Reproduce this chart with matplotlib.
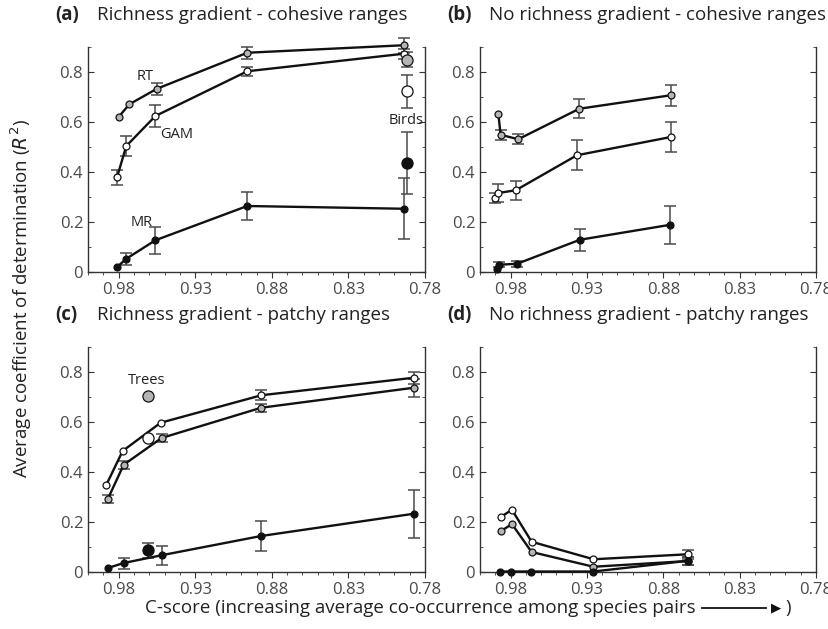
import numpy as np
import matplotlib.pyplot as plt
from matplotlib.ticker import MultipleLocator

plt.rcParams['font.family'] = ['Open Sans', 'DejaVu Sans']

# (a) Richness gradient - cohesive ranges
a_rt_x = [0.980, 0.973, 0.955, 0.896, 0.794]
a_rt = [0.620, 0.671, 0.733, 0.877, 0.907]
a_rt_err = [0, 0, 0.023, 0.023, 0.030]
a_gam_x = [0.981, 0.975, 0.956, 0.896, 0.794]
a_gam = [0.380, 0.504, 0.624, 0.803, 0.873]
a_gam_err = [0.030, 0.041, 0.045, 0.017, 0.020]
a_mr_x = [0.981, 0.975, 0.956, 0.896, 0.794]
a_mr = [0.020, 0.053, 0.127, 0.264, 0.253]
a_mr_err = [0, 0.025, 0.053, 0.057, 0.122]
birds_x = 0.7915
birds_rt, birds_rt_err = 0.850, 0.030
birds_gam, birds_gam_err = 0.724, 0.066
birds_mr, birds_mr_err = 0.436, 0.125

# (b) No richness gradient - cohesive ranges
b_rt_x = [0.988, 0.9865, 0.975, 0.935, 0.875]
b_rt = [0.633, 0.549, 0.531, 0.653, 0.707]
b_rt_err = [0, 0.020, 0.020, 0.037, 0.043]
b_gam_x = [0.990, 0.988, 0.9766, 0.9365, 0.875]
b_gam = [0.297, 0.316, 0.327, 0.467, 0.540]
b_gam_err = [0.020, 0.035, 0.037, 0.060, 0.060]
b_mr_x = [0.989, 0.9875, 0.9757, 0.9346, 0.8753]
b_mr = [0.013, 0.029, 0.033, 0.129, 0.189]
b_mr_err = [0, 0.010, 0.013, 0.043, 0.075]

# (c) Richness gradient - patchy ranges
c_gam_x = [0.988, 0.9774, 0.9526, 0.8868, 0.7874]
c_gam = [0.349, 0.484, 0.597, 0.707, 0.777]
c_gam_err = [0, 0, 0, 0.020, 0.023]
c_rt_x = [0.987, 0.9767, 0.952, 0.887, 0.7874]
c_rt = [0.293, 0.429, 0.536, 0.657, 0.737]
c_rt_err = [0.016, 0.017, 0.015, 0.015, 0.037]
c_mr_x = [0.987, 0.9767, 0.952, 0.887, 0.7874]
c_mr = [0.016, 0.036, 0.067, 0.144, 0.233]
c_mr_err = [0, 0.022, 0.037, 0.060, 0.095]
trees_x = 0.961
trees_rt, trees_rt_err = 0.703, 0
trees_gam, trees_gam_err = 0.537, 0
trees_mr, trees_mr_err = 0.087, 0.030

# (d) No richness gradient - patchy ranges
d_gam_x = [0.9864, 0.9791, 0.9662, 0.9257, 0.8636]
d_gam = [0.220, 0.249, 0.121, 0.051, 0.071]
d_gam_err = [0, 0, 0, 0, 0.018]
d_rt_x = [0.9864, 0.9791, 0.9662, 0.9257, 0.8636]
d_rt = [0.163, 0.192, 0.080, 0.021, 0.044]
d_rt_err = [0, 0, 0, 0, 0.017]
d_mr_x = [0.987, 0.9795, 0.9665, 0.9257, 0.8636]
d_mr = [0.002, 0.002, 0.002, 0.002, 0.045]
d_mr_err = [0, 0, 0, 0, 0.015]

titles = ['Richness gradient - cohesive ranges', 'No richness gradient - cohesive ranges',
          'Richness gradient - patchy ranges', 'No richness gradient - patchy ranges']
letters = ['(a)', '(b)', '(c)', '(d)']

GRAY = '#b4b4b4'
ERRC = '#4a4a4a'
TICKC = '#4a4a4a'
FS = 13.5


def series(ax, x, y, err, fc, ms=5):
    x = np.array(x)
    y = np.array(y)
    err = np.array(err)
    m = err > 0
    eb = ax.errorbar(x[m], y[m], yerr=err[m], fmt='none', ecolor=ERRC, elinewidth=1.1,
                     capsize=4, capthick=1.1, zorder=2)
    for art in eb.lines[1] + eb.lines[2]:
        art.set_clip_on(False)
    ax.plot(x, y, '-', color='#111111', lw=1.7, zorder=3, clip_on=False)
    ax.plot(x, y, 'o', ms=ms, mfc=fc, mec='#111111', mew=0.9, zorder=4, clip_on=False)


def big(ax, x, y, err, fc):
    if err > 0:
        ax.errorbar([x], [y], yerr=[err], fmt='none', ecolor=ERRC, elinewidth=1.1,
                    capsize=4, capthick=1.1, zorder=2)
    ax.plot([x], [y], 'o', ms=8, mfc=fc, mec='#111111', mew=0.9, zorder=5, clip_on=False)


fig = plt.figure(figsize=(8.29, 6.29), dpi=100)
W, H = 829.0, 629.0
boxes = [(88, 47, 425, 272), (480, 47, 816, 272), (88, 347, 425, 572), (480, 347, 816, 572)]
axes = []
for (l, t, r, b) in boxes:
    ax = fig.add_axes([l / W, 1 - b / H, (r - l) / W, (b - t) / H])
    ax.set_xlim(1.0, 0.78)
    ax.set_ylim(0, 0.9)
    ax.xaxis.set_minor_locator(MultipleLocator(0.01))
    ax.yaxis.set_minor_locator(MultipleLocator(0.1))
    ax.set_xticks([0.98, 0.93, 0.88, 0.83, 0.78])
    ax.set_xticklabels(['0.98', '0.93', '0.88', '0.83', '0.78'])
    ax.set_yticks([0, 0.2, 0.4, 0.6, 0.8])
    ax.set_yticklabels(['0', '0.2', '0.4', '0.6', '0.8'])
    ax.spines['top'].set_visible(False)
    for s in ['left', 'right', 'bottom']:
        ax.spines[s].set_linewidth(1.0)
        ax.spines[s].set_color('#333333')
    ax.tick_params(axis='y', which='both', direction='in', left=True, right=True,
                   colors='#333333', labelcolor=TICKC, labelsize=12)
    ax.tick_params(axis='y', which='major', length=4)
    ax.tick_params(axis='y', which='minor', length=2.5)
    ax.tick_params(axis='x', which='both', direction='out', colors='#333333',
                   labelcolor=TICKC, labelsize=12)
    ax.tick_params(axis='x', which='major', length=4)
    ax.tick_params(axis='x', which='minor', length=2.5)
    axes.append(ax)

for ax, (l, t, r, b), let, ttl in zip(axes, boxes, letters, titles):
    fig.text((l - 33) / W, 1 - (t - 32) / H, let, fontsize=FS, fontweight='bold',
             va='center', ha='left', color='#222222')
    fig.text((l + 9) / W, 1 - (t - 32) / H, ttl, fontsize=FS, va='center', ha='left',
             color='#222222')

ax = axes[0]
series(ax, a_rt_x, a_rt, a_rt_err, GRAY)
series(ax, a_gam_x, a_gam, a_gam_err, 'white')
series(ax, a_mr_x, a_mr, a_mr_err, '#111111')
big(ax, birds_x, birds_rt, birds_rt_err, GRAY)
big(ax, birds_x, birds_gam, birds_gam_err, 'white')
big(ax, birds_x, birds_mr, birds_mr_err, '#111111')
ax.text(0.963, 0.78, 'RT', fontsize=10.5, ha='center', va='center', color='#222222')
ax.text(0.942, 0.55, 'GAM', fontsize=10.5, ha='center', va='center', color='#222222')
ax.text(0.965, 0.20, 'MR', fontsize=10.5, ha='center', va='center', color='#222222')
ax.text(0.7925, 0.607, 'Birds', fontsize=10.5, ha='center', va='center', color='#222222')

ax = axes[1]
series(ax, b_rt_x, b_rt, b_rt_err, GRAY)
series(ax, b_gam_x, b_gam, b_gam_err, 'white')
series(ax, b_mr_x, b_mr, b_mr_err, '#111111')

ax = axes[2]
series(ax, c_gam_x, c_gam, c_gam_err, 'white')
series(ax, c_rt_x, c_rt, c_rt_err, GRAY)
series(ax, c_mr_x, c_mr, c_mr_err, '#111111')
big(ax, trees_x, trees_rt, trees_rt_err, GRAY)
big(ax, trees_x, trees_gam, trees_gam_err, 'white')
big(ax, trees_x, trees_mr, trees_mr_err, '#111111')
ax.text(0.962, 0.765, 'Trees', fontsize=10.5, ha='center', va='center', color='#222222')

ax = axes[3]
series(ax, d_gam_x, d_gam, d_gam_err, 'white')
series(ax, d_rt_x, d_rt, d_rt_err, GRAY)
series(ax, d_mr_x, d_mr, d_mr_err, '#111111')

fig.text(21 / W, 1 - 478 / H, 'Average coefficient of determination ($R^2$)', rotation=90,
         fontsize=FS, ha='center', va='bottom', color='#222222')

xl = fig.text(145 / W, 1 - 608 / H,
              'C-score (increasing average co-occurrence among species pairs',
              fontsize=FS, ha='left', va='center', color='#222222')
fig.canvas.draw()
bb = xl.get_window_extent()
x0 = bb.x1 / W + 6 / W
fig.add_artist(plt.Line2D([x0, x0 + 64 / W], [1 - 608 / H, 1 - 608 / H],
                          transform=fig.transFigure, color='#111111', lw=1.3))
fig.text(x0 + 80 / W, 1 - 608 / H, '\u25b6', fontsize=9.5, ha='right', va='center',
         color='#111111')
fig.text(x0 + 84 / W, 1 - 608 / H, ')', fontsize=FS, ha='left', va='center',
         color='#222222')

fig.savefig('out.png', dpi=100)
